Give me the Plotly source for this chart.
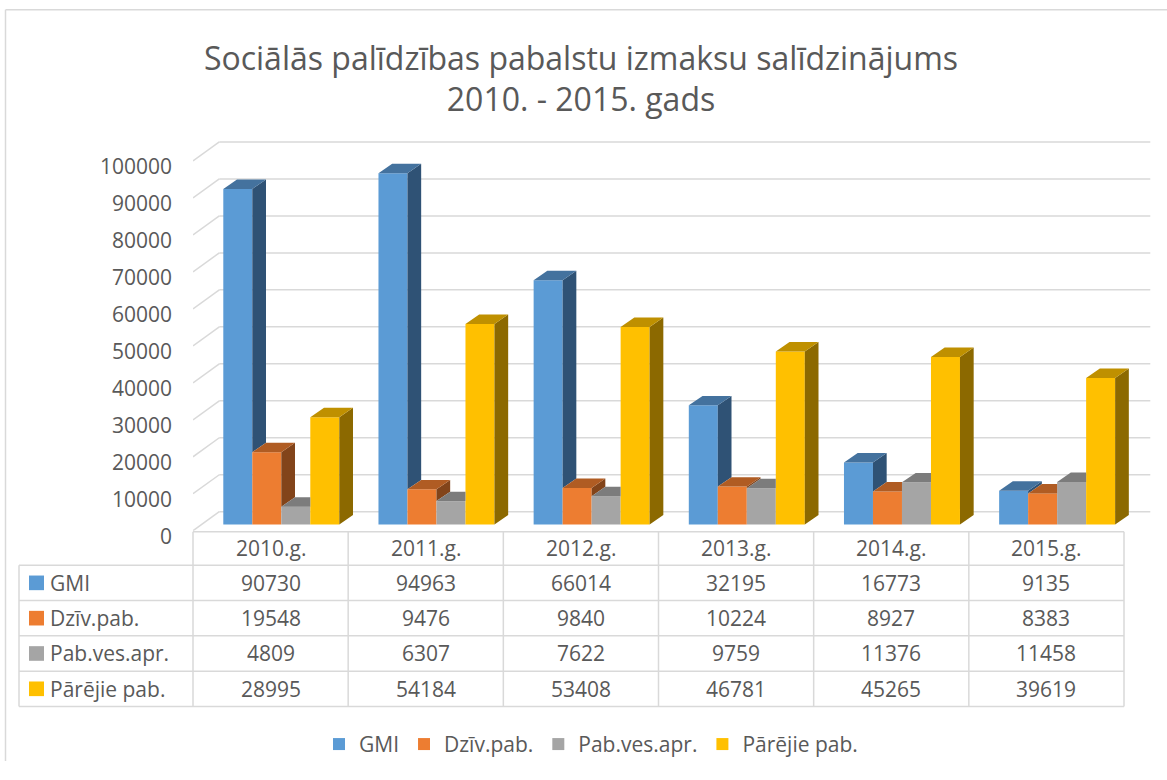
import plotly.graph_objects as go

# ---------------- data ----------------
categories = ["2010.g.", "2011.g.", "2012.g.", "2013.g.", "2014.g.", "2015.g."]
series_names = ["GMI", "Dzīv.pab.", "Pab.ves.apr.", "Pārējie pab."]
gmi = [90730, 94963, 66014, 32195, 16773, 9135]
dziv_pab = [19548, 9476, 9840, 10224, 8927, 8383]
pab_ves_apr = [4809, 6307, 7622, 9759, 11376, 11458]
parejie_pab = [28995, 54184, 53408, 46781, 45265, 39619]
y_tick_values = [0, 10000, 20000, 30000, 40000, 50000, 60000, 70000, 80000, 90000, 100000]
title_text = "Sociālās palīdzības pabalstu izmaksu salīdzinājums<br>2010. - 2015. gads"

series_values = [gmi, dziv_pab, pab_ves_apr, parejie_pab]

# ---------------- styles ----------------
FRONT = ["#5B9BD5", "#ED7D31", "#A5A5A5", "#FFC000"]
SIDE = ["#2F5275", "#82441A", "#5E5E5E", "#8C6900"]
TOP = ["#44729E", "#B05C23", "#7C7C7C", "#BF9000"]
GRID = "#D9D9D9"
TXT = "#595959"
FONT = "Open Sans"

W, H = 1167, 780


def px_x(p):
    return p / W


def px_y(p):
    return 1 - p / H


# pixel geometry of the 3-D box (front plane)
X_LEFT = 193.0                 # category boundary 0
CAT = (1124.0 - 193.0) / 6     # px per category
X_RIGHT = 1165.0
Y_ZERO = 544.0                 # value 0 on the front plane
VPX = 379.0 / 100000           # px per value unit
Y_TOP = 120.0

x_range = [0, (X_RIGHT - X_LEFT) / CAT]
y_range = [0, (Y_ZERO - Y_TOP) / VPX]

# depth offsets in data units
BDX = 26.3 / CAT     # back wall
BDY = 19.5 / VPX
BAR_OFF = 30.3 / CAT  # first bar left edge inside a category
BW = 29.0 / CAT       # bar width
BASE = 6.5 / VPX      # bar floor above front edge
DX = 13.7 / CAT       # bar depth
DY = 9.7 / VPX

fig = go.Figure()

# front faces (library bars)
for k, (name, vals) in enumerate(zip(series_names, series_values)):
    fig.add_trace(go.Bar(
        x=[i + BAR_OFF + (k + 0.5) * BW for i in range(len(categories))],
        y=vals, base=BASE, width=BW, name=name,
        marker=dict(color=FRONT[k], line=dict(width=0)),
        hovertemplate=name + ": %{y}<extra></extra>",
    ))

# side and top faces, clipped against the next bar in the cluster
for k, vals in enumerate(series_values):
    sx, sy, tx, ty = [], [], [], []
    for i in range(len(categories)):
        L = i + BAR_OFF + k * BW
        R = L + BW
        h = BASE + vals[i]
        if k + 1 < len(series_values):
            hn = BASE + series_values[k + 1][i]
            lo = max(BASE, hn)
        else:
            hn = None
            lo = BASE
        if h > lo:
            sx += [R, R + DX, R + DX, R, R, None]
            sy += [lo, lo + DY, h + DY, h, lo, None]
        if hn is None:
            c = h
        else:
            c = min(max(hn, h), h + DY)
        xc = R + DX * (h + DY - c) / DY
        tx += [L, R, R, xc, L + DX, L, None]
        ty += [h, h, c, h + DY, h + DY, h, None]
    fig.add_trace(go.Scatter(x=sx, y=sy, mode="lines", fill="toself",
                             fillcolor=SIDE[k], line=dict(width=0),
                             showlegend=False, hoverinfo="skip"))
    fig.add_trace(go.Scatter(x=tx, y=ty, mode="lines", fill="toself",
                             fillcolor=TOP[k], line=dict(width=0),
                             showlegend=False, hoverinfo="skip"))

shapes = []
# back wall gridlines and left wall diagonals
n = len(categories)
for v in y_tick_values:
    shapes.append(dict(type="line", xref="x", yref="y", layer="below",
                       x0=BDX, y0=v + BDY, x1=n + BDX, y1=v + BDY,
                       line=dict(color=GRID, width=1.5)))
    shapes.append(dict(type="line", xref="x", yref="y", layer="below",
                       x0=0, y0=v, x1=BDX, y1=v + BDY,
                       line=dict(color=GRID, width=1.5)))

# data table
TBL_LEFT = 19.0
HEAD_TOP = Y_ZERO + 1
HEAD_BOT = 579.3
ROW_H = 36.2
row_lines = [HEAD_BOT + r * ROW_H for r in range(len(series_names) + 1)]
table_right = X_LEFT + n * CAT

shapes.append(dict(type="line", xref="paper", yref="paper",
                   x0=px_x(X_LEFT), x1=px_x(table_right), y0=px_y(HEAD_TOP), y1=px_y(HEAD_TOP),
                   line=dict(color=GRID, width=1.5)))
for yl in row_lines:
    shapes.append(dict(type="line", xref="paper", yref="paper",
                       x0=px_x(TBL_LEFT), x1=px_x(table_right), y0=px_y(yl), y1=px_y(yl),
                       line=dict(color=GRID, width=1.5)))
shapes.append(dict(type="line", xref="paper", yref="paper",
                   x0=px_x(TBL_LEFT), x1=px_x(TBL_LEFT), y0=px_y(HEAD_BOT), y1=px_y(row_lines[-1]),
                   line=dict(color=GRID, width=1.5)))
for i in range(n + 1):
    xp = px_x(X_LEFT + i * CAT)
    shapes.append(dict(type="line", xref="paper", yref="paper",
                       x0=xp, x1=xp, y0=px_y(HEAD_TOP), y1=px_y(row_lines[-1]),
                       line=dict(color=GRID, width=1.5)))

# chart frame
shapes.append(dict(type="line", xref="paper", yref="paper",
                   x0=px_x(5.5), x1=px_x(5.5), y0=px_y(10), y1=0,
                   line=dict(color=GRID, width=1.5)))
shapes.append(dict(type="line", xref="paper", yref="paper",
                   x0=px_x(5.5), x1=1, y0=px_y(10), y1=px_y(10),
                   line=dict(color=GRID, width=1.5)))

annotations = []
tfont = dict(family=FONT, size=21, color=TXT)
for i, cat in enumerate(categories):
    annotations.append(dict(xref="x", yref="paper", x=i + 0.5, y=px_y((HEAD_TOP + HEAD_BOT) / 2),
                            text=cat, showarrow=False, font=tfont,
                            xanchor="center", yanchor="middle"))
for r, (name, vals) in enumerate(zip(series_names, series_values)):
    yc = px_y(row_lines[r] + ROW_H / 2)
    shapes.append(dict(type="rect", xref="paper", yref="paper",
                       x0=px_x(29), x1=px_x(44),
                       y0=px_y(row_lines[r] + ROW_H / 2 - 7.5), y1=px_y(row_lines[r] + ROW_H / 2 + 7.5),
                       fillcolor=FRONT[r], line=dict(width=0)))
    annotations.append(dict(xref="paper", yref="paper", x=px_x(48), y=yc,
                            text=name, showarrow=False, font=tfont,
                            xanchor="left", yanchor="middle"))
    for i, v in enumerate(vals):
        annotations.append(dict(xref="x", yref="paper", x=i + 0.5, y=yc,
                                text=str(v), showarrow=False, font=tfont,
                                xanchor="center", yanchor="middle"))

fig.update_layout(
    width=W, height=H,
    margin=dict(l=0, r=0, t=0, b=0),
    paper_bgcolor="white", plot_bgcolor="rgba(0,0,0,0)",
    barmode="overlay",
    title=dict(text=title_text, x=px_x(581), xanchor="center",
               y=px_y(69.5), yanchor="middle",
               font=dict(family=FONT, size=32, color=TXT)),
    xaxis=dict(domain=[px_x(X_LEFT), px_x(X_RIGHT)], range=x_range,
               showgrid=False, zeroline=False, showline=False,
               showticklabels=False, ticks="", fixedrange=True),
    yaxis=dict(domain=[px_y(Y_ZERO), px_y(Y_TOP)], range=y_range,
               tickvals=y_tick_values, ticktext=[str(v) for v in y_tick_values],
               showgrid=False, zeroline=False, showline=False, ticks="",
               tickfont=dict(family=FONT, size=21, color=TXT),
               ticklabelstandoff=20, ticklabelshift=6, fixedrange=True),
    legend=dict(orientation="h", x=px_x(591), xanchor="center",
                y=px_y(763), yanchor="middle",
                font=dict(family=FONT, size=21, color=TXT),
                bgcolor="rgba(0,0,0,0)"),
    shapes=shapes,
    annotations=annotations,
    showlegend=True,
)

fig.write_html("out.html", config={"displayModeBar": False},
               post_script="document.body.style.margin='0';")
